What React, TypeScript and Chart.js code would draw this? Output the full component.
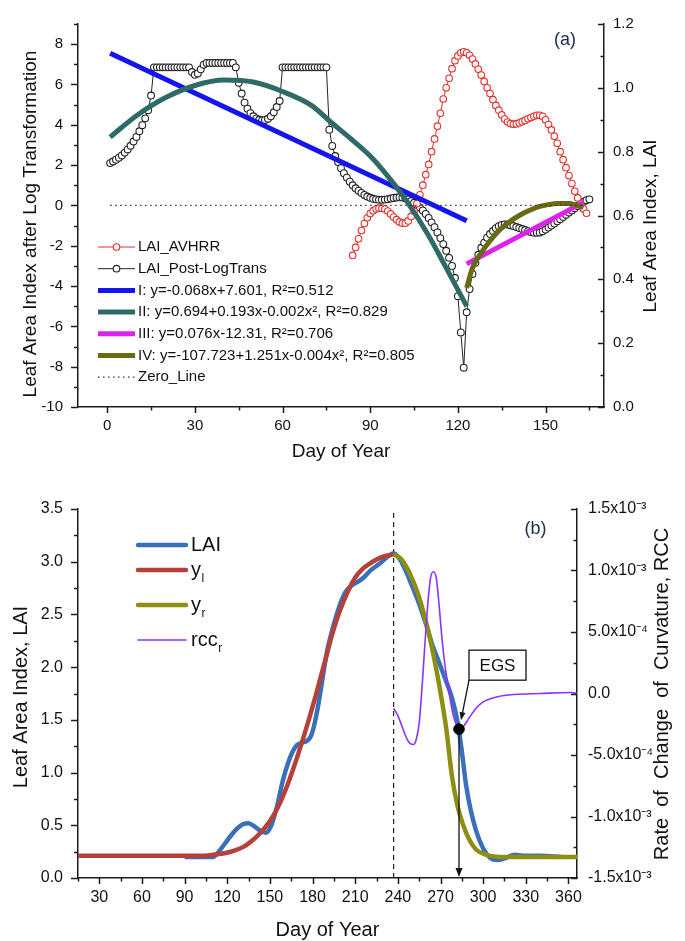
import React, { useEffect, useRef } from 'react';
import { Chart, registerables } from 'chart.js';

Chart.register(...registerables);

const FONT = '"Liberation Sans", Arial, Helvetica, sans-serif';
const INK = '#111111';
const AXIS_INK = '#1c1c1c';

// ================= Panel (a) =================
const A_X_TICKS = [0, 30, 60, 90, 120, 150];
const A_Y_TICKS = [-10, -8, -6, -4, -2, 0, 2, 4, 6, 8];
const A_Y2_TICKS = [0, 0.2, 0.4, 0.6, 0.8, 1.0, 1.2];
const A_Y2_LABELS = ['0.0', '0.2', '0.4', '0.6', '0.8', '1.0', '1.2'];

// LAI after log transformation, one value per day starting at day 1
const POST_FIRST_DAY = 1;
const LAI_POST_LOGTRANS = [
  2.10, 2.18, 2.27, 2.37, 2.48, 2.62, 2.78, 2.96, 3.17, 3.40,
  3.68, 3.98, 4.32, 4.72, 5.45,
  6.85, 6.85, 6.85, 6.85, 6.85, 6.85, 6.85, 6.85, 6.85, 6.85, 6.85, 6.85, 6.85,
  6.62, 6.48, 6.55, 6.75, 6.98,
  7.07, 7.07, 7.07, 7.07, 7.07, 7.07, 7.07, 7.07, 7.07, 7.07,
  6.85, 6.08, 5.55, 5.10, 4.80, 4.58, 4.42, 4.32, 4.25, 4.22, 4.24, 4.30, 4.42, 4.62, 4.88, 5.18,
  6.85, 6.85, 6.85, 6.85, 6.85, 6.85, 6.85, 6.85, 6.85, 6.85, 6.85, 6.85, 6.85, 6.85, 6.85, 6.85,
  3.76, 2.95, 2.45, 2.15, 1.85, 1.60, 1.38, 1.18, 1.00, 0.85,
  0.73, 0.62, 0.52, 0.44, 0.38, 0.33, 0.30, 0.28, 0.28, 0.29,
  0.31, 0.34, 0.37, 0.39, 0.40, 0.39, 0.36, 0.30, 0.22, 0.13,
  0.02, -0.10, -0.25, -0.42, -0.62, -0.84, -1.08, -1.34, -1.62, -1.92,
  -2.25, -2.60, -3.00, -3.60, -4.50, -6.30, -8.05, -5.30, -4.15, -3.40,
  -2.85, -2.45, -2.10, -1.85, -1.60, -1.42, -1.27, -1.13, -1.03, -0.97,
  -0.94, -0.95, -0.98, -1.02, -1.07, -1.12, -1.17, -1.22, -1.28, -1.32,
  -1.35, -1.36, -1.34, -1.28, -1.20, -1.10, -1.00, -0.90, -0.79, -0.68,
  -0.57, -0.46, -0.35, -0.25, -0.14, -0.03, 0.08, 0.18, 0.26, 0.30,
];

// AVHRR LAI (right axis), one value per day starting at day 84
const AVHRR_FIRST_DAY = 84;
const LAI_AVHRR = [
  0.475, 0.500, 0.527, 0.553, 0.575, 0.593, 0.606, 0.615, 0.620, 0.623,
  0.623, 0.620, 0.614, 0.605, 0.595, 0.587, 0.580, 0.576, 0.576, 0.583,
  0.597, 0.613, 0.637, 0.665, 0.695, 0.728, 0.760, 0.800, 0.840, 0.880,
  0.920, 0.965, 1.000, 1.030, 1.060, 1.085, 1.100, 1.110, 1.113, 1.110,
  1.102, 1.090, 1.075, 1.058, 1.040, 1.020, 1.000, 0.982, 0.963, 0.945,
  0.930, 0.915, 0.902, 0.893, 0.888, 0.886, 0.887, 0.890, 0.894, 0.898,
  0.903, 0.907, 0.911, 0.914, 0.914, 0.911, 0.900, 0.885, 0.868, 0.848,
  0.826, 0.800, 0.775, 0.750, 0.725, 0.700, 0.676, 0.655, 0.636, 0.620,
  0.607,
];

const FIT_I_DAYS = [1, 123];
const FIT_I_VALUES = [7.55, -0.76];
const FIT_II_DAYS = [1, 10, 20, 30, 40, 50, 60, 70, 76, 83, 90, 96, 103, 110, 116, 123];
const FIT_II_VALUES = [3.39, 4.45, 5.35, 5.95, 6.22, 6.12, 5.65, 4.95, 4.2, 3.35, 2.45, 1.45, 0.1, -1.5, -3.1, -5.0];
const FIT_III_DAYS = [123, 163];
const FIT_III_VALUES = [-2.9, 0.15];
const FIT_IV_DAYS = [123, 125, 128, 131, 134, 137, 141, 144, 148, 151, 154, 158, 161, 163];
const FIT_IV_VALUES = [-4.1, -3.1, -2.35, -1.75, -1.25, -0.88, -0.5, -0.28, -0.05, 0.04, 0.09, 0.09, -0.02, -0.1];
const ZERO_DAYS = [1, 163];
const ZERO_VALUES = [0, 0];

const A_LABELS = [
  'LAI_AVHRR',
  'LAI_Post-LogTrans',
  'I: y=-0.068x+7.601, R²=0.512',
  'II: y=0.694+0.193x-0.002x², R²=0.829',
  'III: y=0.076x-12.31, R²=0.706',
  'IV: y=-107.723+1.251x-0.004x², R²=0.805',
  'Zero_Line',
];

// ================= Panel (b) =================
const B_X_TICKS = [30, 60, 90, 120, 150, 180, 210, 240, 270, 300, 330, 360];
const B_Y_TICKS = [0, 0.5, 1.0, 1.5, 2.0, 2.5, 3.0, 3.5];
const B_Y_LABELS = ['0.0', '0.5', '1.0', '1.5', '2.0', '2.5', '3.0', '3.5'];
const B_Y2_TICKS = [-1.5e-3, -1.0e-3, -5.0e-4, 0, 5.0e-4, 1.0e-3, 1.5e-3];
const B_Y2_LABELS = ['-1.5x10⁻³', '-1.0x10⁻³', '-5.0x10⁻⁴', '0.0', '5.0x10⁻⁴', '1.0x10⁻³', '1.5x10⁻³'];

const LAI_DAYS = [90, 100, 110, 114, 118, 123, 127, 131, 135, 139, 143, 147, 151, 155, 159, 163, 166, 169, 172, 176,
  179, 182, 185, 188, 191, 194, 197, 200, 203, 207, 212, 216, 221, 227, 233, 237, 241, 245, 250, 255,
  260, 264, 268, 273, 278, 282, 285, 288, 291, 295, 300, 305, 310, 316, 322, 328, 340, 355];
const LAI_VALUES = [0.2, 0.2, 0.2, 0.25, 0.32, 0.41, 0.47, 0.51, 0.52, 0.49, 0.45, 0.43, 0.5, 0.68, 0.92, 1.1, 1.2, 1.26, 1.28, 1.3,
  1.35, 1.5, 1.72, 1.98, 2.2, 2.36, 2.5, 2.62, 2.71, 2.77, 2.81, 2.85, 2.92, 2.98, 3.05, 3.08, 3.03, 2.93, 2.77, 2.6,
  2.4, 2.22, 2.08, 1.9, 1.71, 1.48, 1.2, 0.88, 0.66, 0.45, 0.28, 0.19, 0.17, 0.19, 0.22, 0.21, 0.21, 0.2];

const YL_DAYS = [15, 60, 100, 110, 118, 125, 132, 138, 142, 146, 150, 154, 158, 162, 166, 170, 174, 178, 182, 186,
  190, 194, 198, 202, 206, 210, 215, 220, 225, 230, 237];
const YL_VALUES = [0.21, 0.21, 0.21, 0.22, 0.235, 0.26, 0.3, 0.36, 0.41, 0.47, 0.54, 0.63, 0.74, 0.87, 1.02, 1.18, 1.35, 1.53, 1.72, 1.92,
  2.12, 2.32, 2.49, 2.63, 2.75, 2.85, 2.93, 2.98, 3.02, 3.05, 3.07];

const YR_DAYS = [237, 242, 246, 250, 254, 258, 262, 266, 270, 274, 278, 282, 286, 290, 295, 300, 305, 312, 325, 345, 366];
const YR_VALUES = [3.07, 3.03, 2.95, 2.84, 2.7, 2.52, 2.31, 2.05, 1.76, 1.42, 0.97, 0.68, 0.5, 0.37, 0.27, 0.23, 0.21, 0.2, 0.2, 0.2, 0.2];

const RCC_DAYS = [237, 240, 243, 246, 249, 251, 253, 255, 257, 259, 261, 263, 265, 267, 269, 271, 273, 275, 277, 279,
  281, 283, 286, 290, 295, 300, 310, 322, 340, 362, 366];
const RCC_VALUES = [-1.2e-4, -1.8e-4, -2.7e-4, -3.6e-4, -4.1e-4, -4.15e-4, -3.7e-4, -2.4e-4, 0.5e-4, 4.0e-4,
  7.2e-4, 9.4e-4, 9.9e-4, 9.4e-4, 7.2e-4, 4.5e-4, 2.4e-4, 0.9e-4, -0.6e-4, -1.8e-4,
  -2.5e-4, -2.9e-4, -2.7e-4, -2.0e-4, -1.2e-4, -0.68e-4, -0.27e-4, -0.08e-4, 0, 0.08e-4, 0];

const PEAK_DAYS = [237, 237];
const PEAK_VALUES = [0, 3.5];
const EGS_DAY = 283;
const EGS_RCC = -2.9e-4;

const B_LEGEND_MAIN = ['LAI', 'y', 'y', 'rcc'];
const B_LEGEND_SUB = ['', 'l', 'r', 'r'];

// ================= helpers =================
const pts = (days: number[], vals: number[]) => vals.map((v, i) => ({ x: days[i], y: v }));
const daily = (first: number, vals: number[]) => vals.map((v, i) => ({ x: first + i, y: v }));

function txt(ctx: CanvasRenderingContext2D, s: string, x: number, y: number, size: number,
  rot = 0, align: CanvasTextAlign = 'center', color = INK) {
  ctx.save();
  ctx.translate(x, y);
  if (rot) ctx.rotate(rot);
  ctx.font = `normal ${size}px ${FONT}`;
  ctx.fillStyle = color;
  ctx.textAlign = align;
  ctx.textBaseline = 'middle';
  ctx.fillText(s, 0, 0);
  ctx.restore();
}

function arrow(ctx: CanvasRenderingContext2D, x1: number, y1: number, x2: number, y2: number, head = 8, half = 3.2) {
  const a = Math.atan2(y2 - y1, x2 - x1);
  const c = Math.cos(a), s = Math.sin(a);
  ctx.beginPath();
  ctx.moveTo(x1, y1);
  ctx.lineTo(x2 - c * head * 0.8, y2 - s * head * 0.8);
  ctx.stroke();
  ctx.beginPath();
  ctx.moveTo(x2, y2);
  ctx.lineTo(x2 - c * head - s * half, y2 - s * head + c * half);
  ctx.lineTo(x2 - c * head + s * half, y2 - s * head - c * half);
  ctx.closePath();
  ctx.fill();
}

type TickSpec = { id: string; step: number; major: number; minor: number; dir: number };

function drawTicks(chart: any, specs: TickSpec[]) {
  const ctx: CanvasRenderingContext2D = chart.ctx;
  ctx.save();
  ctx.strokeStyle = AXIS_INK;
  ctx.lineWidth = 1.5;
  for (const sp of specs) {
    const sc = chart.scales[sp.id];
    const horiz = sc.isHorizontal();
    const line = (v: number, len: number) => {
      const p = Math.round(sc.getPixelForValue(v)) + 0.5;
      ctx.beginPath();
      if (horiz) {
        const y0 = sc.top;
        ctx.moveTo(p, y0);
        ctx.lineTo(p, y0 + sp.dir * len);
      } else {
        const x0 = sc.position === 'left' ? sc.right : sc.left;
        ctx.moveTo(x0, p);
        ctx.lineTo(x0 + sp.dir * len, p);
      }
      ctx.stroke();
    };
    const majors: number[] = sc.ticks.map((t: any) => t.value);
    majors.forEach((v) => line(v, sp.major));
    const eps = sp.step * 1e-3;
    const k0 = Math.ceil((sc.min - eps) / sp.step);
    for (let k = k0; k * sp.step <= sc.max + eps; k++) {
      const v = k * sp.step;
      if (majors.some((m) => Math.abs(m - v) < eps)) continue;
      line(v, sp.minor);
    }
  }
  ctx.restore();
}

const fixedTicks = (vals: number[]) => (s: any) => { s.ticks = vals.map((v) => ({ value: v })); };

function axisBase(size: number, padding: number) {
  return {
    grid: { display: false, drawTicks: false },
    border: { display: true, color: AXIS_INK, width: 1.5 },
    ticks: { font: { family: FONT, size }, color: INK, padding, autoSkip: false, maxRotation: 0, minRotation: 0 },
    title: { display: false },
  };
}

// ================= colours =================
const RED_A = '#e3312b';
const BLACK_A = '#222222';
const BLUE_A = '#1414ee';
const TEAL_A = '#2f6b66';
const MAGENTA_A = '#dd22ee';
const OLIVE_A = '#6a6a12';

const BLUE_B = '#3a70ba';
const RED_B = '#b4423b';
const OLIVE_B = '#8e8e12';
const PURPLE_B = '#8a33ff';

function configA(): any {
  const datasets: any[] = [
    { label: A_LABELS[0], data: daily(AVHRR_FIRST_DAY, LAI_AVHRR), yAxisID: 'y1', borderColor: RED_A, borderWidth: 1,
      pointRadius: 3.3, pointBorderWidth: 1.1, pointBackgroundColor: '#ffffff', pointBorderColor: RED_A, order: 5, legendMarker: true },
    { label: A_LABELS[1], data: daily(POST_FIRST_DAY, LAI_POST_LOGTRANS), yAxisID: 'y', borderColor: BLACK_A, borderWidth: 1,
      pointRadius: 3.4, pointBorderWidth: 1.1, pointBackgroundColor: '#ffffff', pointBorderColor: BLACK_A, order: 6, legendMarker: true },
    { label: A_LABELS[2], data: pts(FIT_I_DAYS, FIT_I_VALUES), yAxisID: 'y', borderColor: BLUE_A, borderWidth: 5, pointRadius: 0, order: 4 },
    { label: A_LABELS[3], data: pts(FIT_II_DAYS, FIT_II_VALUES), yAxisID: 'y', borderColor: TEAL_A, borderWidth: 5, pointRadius: 0,
      cubicInterpolationMode: 'monotone', order: 3 },
    { label: A_LABELS[4], data: pts(FIT_III_DAYS, FIT_III_VALUES), yAxisID: 'y', borderColor: MAGENTA_A, borderWidth: 5, pointRadius: 0, order: 2 },
    { label: A_LABELS[5], data: pts(FIT_IV_DAYS, FIT_IV_VALUES), yAxisID: 'y', borderColor: OLIVE_A, borderWidth: 5, pointRadius: 0,
      cubicInterpolationMode: 'monotone', order: 1 },
    { label: A_LABELS[6], data: pts(ZERO_DAYS, ZERO_VALUES), yAxisID: 'y', borderColor: '#333333', borderWidth: 1.2,
      borderDash: [1.5, 3.5], pointRadius: 0, order: 0 },
  ];
  const decor = {
    id: 'decorA',
    afterDraw(chart: any) {
      const ctx: CanvasRenderingContext2D = chart.ctx;
      const ca = chart.chartArea;
      drawTicks(chart, [
        { id: 'x', step: 15, major: 6, minor: 3.5, dir: 1 },
        { id: 'y', step: 1, major: 7, minor: 4, dir: -1 },
        { id: 'y1', step: 0.1, major: 6, minor: 3.5, dir: -1 },
      ]);
      txt(ctx, 'Leaf Area Index after Log Transformation', 30.5, 224, 19, -Math.PI / 2);
      txt(ctx, 'Leaf Area Index, LAI', 651, 226, 19, -Math.PI / 2);
      txt(ctx, 'Day of Year', (ca.left + ca.right) / 2, 452, 19);
      txt(ctx, '(a)', 565, 40, 18, 0, 'center', '#1d2b52');
      // legend
      const x0 = 98, x1 = 135, tx = 138, y0 = 247, dy = 21.7;
      chart.data.datasets.forEach((ds: any) => {
        const i = A_LABELS.indexOf(ds.label);
        const y = y0 + i * dy;
        ctx.save();
        ctx.strokeStyle = ds.borderColor;
        ctx.lineWidth = ds.borderWidth;
        ctx.setLineDash(ds.borderDash || []);
        ctx.beginPath();
        ctx.moveTo(x0, y);
        ctx.lineTo(x1, y);
        ctx.stroke();
        ctx.setLineDash([]);
        if (ds.legendMarker) {
          ctx.fillStyle = '#ffffff';
          ctx.lineWidth = 1.1;
          ctx.beginPath();
          ctx.arc((x0 + x1) / 2, y, 3.3, 0, Math.PI * 2);
          ctx.fill();
          ctx.stroke();
        }
        ctx.restore();
        txt(ctx, ds.label, tx, y, 15, 0, 'left');
      });
    },
  };
  return {
    type: 'line',
    data: { datasets },
    plugins: [decor],
    options: {
      animation: false,
      responsive: false,
      maintainAspectRatio: false,
      devicePixelRatio: 1,
      layout: { padding: { top: 18, left: 0, right: 0, bottom: 0 } },
      plugins: { legend: { display: false }, tooltip: { enabled: false } },
      scales: {
        x: { ...axisBase(15, 10), type: 'linear', position: 'bottom', min: -10, max: 170,
          afterBuildTicks: fixedTicks(A_X_TICKS), afterFit: (s: any) => { s.height = 63; } },
        y: { ...axisBase(15, 15), type: 'linear', position: 'left', min: -10, max: 9,
          afterBuildTicks: fixedTicks(A_Y_TICKS), afterFit: (s: any) => { s.width = 78; },
          ticks: { ...axisBase(15, 15).ticks, callback: (v: number) => String(v) } },
        y1: { ...axisBase(15, 9), type: 'linear', position: 'right', min: 0, max: 1.2,
          afterBuildTicks: fixedTicks(A_Y2_TICKS), afterFit: (s: any) => { s.width = 81; },
          ticks: { ...axisBase(15, 9).ticks, callback: (_v: number, i: number) => A_Y2_LABELS[i] } },
      },
    },
  };
}

function configB(): any {
  const datasets: any[] = [
    { label: 'EGS', data: [{ x: EGS_DAY, y: EGS_RCC }], yAxisID: 'y1', showLine: false, pointRadius: 5.3,
      pointBackgroundColor: '#000000', pointBorderColor: '#000000', order: 0 },
    { label: 'rcc_r', data: pts(RCC_DAYS, RCC_VALUES), yAxisID: 'y1', borderColor: PURPLE_B, borderWidth: 1.6, pointRadius: 0,
      cubicInterpolationMode: 'monotone', order: 1 },
    { label: 'y_r', data: pts(YR_DAYS, YR_VALUES), yAxisID: 'y', borderColor: OLIVE_B, borderWidth: 4.5, pointRadius: 0,
      cubicInterpolationMode: 'monotone', order: 2 },
    { label: 'y_l', data: pts(YL_DAYS, YL_VALUES), yAxisID: 'y', borderColor: RED_B, borderWidth: 4.5, pointRadius: 0,
      cubicInterpolationMode: 'monotone', order: 3 },
    { label: 'LAI', data: pts(LAI_DAYS, LAI_VALUES), yAxisID: 'y', borderColor: BLUE_B, borderWidth: 4.5, pointRadius: 0,
      cubicInterpolationMode: 'monotone', order: 4 },
    { label: 'Peak', data: pts(PEAK_DAYS, PEAK_VALUES), yAxisID: 'y', borderColor: '#222222', borderWidth: 1.2,
      borderDash: [5, 4], pointRadius: 0, order: 5 },
  ];
  const legendOrder = ['LAI', 'y_l', 'y_r', 'rcc_r'];
  const decor = {
    id: 'decorB',
    afterDraw(chart: any) {
      const ctx: CanvasRenderingContext2D = chart.ctx;
      const ca = chart.chartArea;
      drawTicks(chart, [
        { id: 'x', step: 15, major: 6, minor: 3.5, dir: 1 },
        { id: 'y', step: 0.25, major: 7, minor: 4, dir: -1 },
        { id: 'y1', step: 2.5e-4, major: 6, minor: 3.5, dir: -1 },
      ]);
      txt(ctx, 'Leaf Area Index, LAI', 21, 227, 20, -Math.PI / 2);
      txt(ctx, 'Rate  of  Change  of  Curvature, RCC', 662, 224, 20, -Math.PI / 2);
      txt(ctx, 'Day of Year', (ca.left + ca.right) / 2, 460, 20);
      txt(ctx, '(b)', 535.5, 59, 18, 0, 'center', '#1d2b52');

      // legend
      const lx0 = 138, lx1 = 186, tx = 191;
      const ys = [75, 100, 135, 170];
      legendOrder.forEach((lab, i) => {
        const ds = chart.data.datasets.find((d: any) => d.label === lab);
        const y = ys[i];
        ctx.save();
        ctx.strokeStyle = ds.borderColor;
        ctx.lineWidth = ds.borderWidth;
        ctx.lineCap = 'round';
        ctx.beginPath();
        ctx.moveTo(lx0, y);
        ctx.lineTo(lx1, y);
        ctx.stroke();
        ctx.restore();
        txt(ctx, B_LEGEND_MAIN[i], tx, y, 20, 0, 'left');
        if (B_LEGEND_SUB[i]) {
          ctx.save();
          ctx.font = `normal 20px ${FONT}`;
          const w = ctx.measureText(B_LEGEND_MAIN[i]).width;
          ctx.restore();
          txt(ctx, B_LEGEND_SUB[i], tx + w + 0.5, y + 9, 12, 0, 'left');
        }
      });

      // EGS annotation
      const px = chart.scales.x.getPixelForValue(EGS_DAY);
      const py = chart.scales.y1.getPixelForValue(EGS_RCC);
      ctx.save();
      ctx.strokeStyle = '#111111';
      ctx.fillStyle = '#111111';
      ctx.lineWidth = 1.3;
      arrow(ctx, px, py + 6, px, ca.bottom - 1, 9, 3.5);
      const bx = px + 10, by = py - 79, bw = 57, bh = 30;
      ctx.fillStyle = '#ffffff';
      ctx.fillRect(bx, by, bw, bh);
      ctx.strokeRect(bx, by, bw, bh);
      ctx.fillStyle = '#111111';
      arrow(ctx, bx, by + bh, px + 2, py - 9, 8, 3);
      ctx.restore();
      txt(ctx, 'EGS', bx + bw / 2, by + bh / 2 + 1, 17);
    },
  };
  return {
    type: 'line',
    data: { datasets },
    plugins: [decor],
    options: {
      animation: false,
      responsive: false,
      maintainAspectRatio: false,
      devicePixelRatio: 1,
      layout: { padding: { top: 39, left: 0, right: 0, bottom: 0 } },
      plugins: { legend: { display: false }, tooltip: { enabled: false } },
      scales: {
        x: { ...axisBase(16, 10), type: 'linear', position: 'bottom', min: 15, max: 366,
          afterBuildTicks: fixedTicks(B_X_TICKS), afterFit: (s: any) => { s.height = 63; } },
        y: { ...axisBase(16, 15), type: 'linear', position: 'left', min: 0, max: 3.5,
          afterBuildTicks: fixedTicks(B_Y_TICKS), afterFit: (s: any) => { s.width = 78; },
          ticks: { ...axisBase(16, 15).ticks, callback: (_v: number, i: number) => B_Y_LABELS[i] } },
        y1: { ...axisBase(16, 11), type: 'linear', position: 'right', min: -1.5e-3, max: 1.5e-3,
          afterBuildTicks: fixedTicks(B_Y2_TICKS), afterFit: (s: any) => { s.width = 108; },
          ticks: { ...axisBase(16, 11).ticks, callback: (_v: number, i: number) => B_Y2_LABELS[i] } },
      },
    },
  };
}

export default function App() {
  const topRef = useRef<HTMLCanvasElement>(null);
  const botRef = useRef<HTMLCanvasElement>(null);
  useEffect(() => {
    const a = new Chart(topRef.current as HTMLCanvasElement, configA());
    const b = new Chart(botRef.current as HTMLCanvasElement, configB());
    return () => {
      a.destroy();
      b.destroy();
    };
  }, []);
  return (
    <div style={{ position: 'absolute', left: 0, top: 0, width: 685, height: 941, background: '#ffffff' }}>
      <canvas ref={topRef} width={685} height={470}
        style={{ position: 'absolute', left: 0, top: 0, width: 685, height: 470, display: 'block' }} />
      <canvas ref={botRef} width={685} height={471}
        style={{ position: 'absolute', left: 0, top: 470, width: 685, height: 471, display: 'block' }} />
    </div>
  );
}
